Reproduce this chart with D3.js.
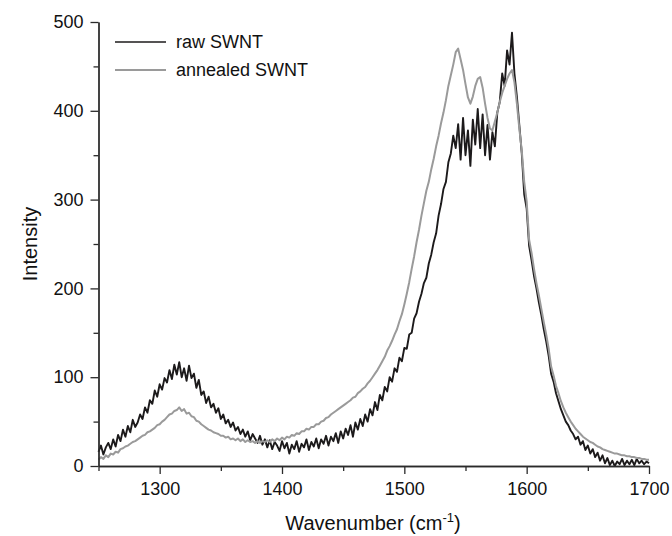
<!DOCTYPE html>
<html>
<head>
<meta charset="utf-8">
<script src="https://cdn.jsdelivr.net/npm/d3@7"></script>
<style>
  body { margin: 0; background: #fff; }
  svg { display: block; font-family: Arial, "Liberation Sans", sans-serif; }
</style>
</head>
<body>
<svg id="chart" width="672" height="536"></svg>
<script>
// wavenumber grid, cm-1 (one reading every 2 cm-1)
var waveStart = 1250, waveStep = 2;

// raw SWNT intensity
var rawSWNT = [
  16, 23, 13, 21, 26, 19, 30, 22, 35, 28,
  41, 33, 45, 38, 52, 44, 49, 58, 53, 66,
  60, 74, 70, 85, 78, 92, 86, 99, 94, 108,
  98, 114, 103, 117, 100, 110, 96, 113, 99, 104,
  88, 97, 80, 84, 71, 78, 66, 70, 60, 65,
  53, 58, 48, 52, 44, 49, 40, 44, 36, 41,
  33, 39, 29, 36, 31, 26, 34, 24, 30, 21,
  29, 19, 27, 23, 17, 28, 20, 26, 14, 24,
  19, 28, 16, 25, 21, 30, 18, 27, 22, 31,
  20, 30, 25, 34, 23, 33, 28, 37, 26, 39,
  31, 42, 35, 46, 33, 49, 41, 53, 45, 58,
  50, 64, 57, 72, 63, 80, 74, 89, 84, 100,
  95, 110, 106, 122, 118, 133, 132, 148, 150, 166,
  172, 185, 194, 206, 212, 228, 238, 252, 262, 282,
  295, 312, 320, 342, 352, 372, 358, 385, 345, 392,
  350, 378, 338, 390, 362, 402, 358, 396, 350, 384,
  345, 376, 360, 398, 410, 442, 428, 468, 452, 488,
  442, 416, 384, 352, 306, 290, 248, 232, 214, 200,
  184, 170, 154, 140, 124, 104, 95, 82, 73, 64,
  57, 50, 46, 40, 36, 30, 33, 24, 28, 18,
  23, 14, 19, 10, 15, 6, 12, 3, 9, 1,
  6, 0, 5, 2, 8, 1, 6, 2, 7, 1,
  8, 3, 6, 2, 5, 3
];

// annealed SWNT intensity
var annealedSWNT = [
  7, 10, 8, 12, 10, 14, 13, 16, 15, 19,
  20, 22, 23, 25, 27, 28, 30, 32, 34, 35,
  38, 39, 41, 43, 46, 47, 50, 52, 55, 58,
  59, 62, 63, 66, 62, 64, 59, 60, 56, 55,
  51, 50, 47, 45, 43, 41, 40, 38, 37, 36,
  34, 34, 32, 33, 30, 31, 29, 31, 28, 30,
  27, 29, 27, 28, 26, 28, 26, 28, 27, 29,
  27, 30, 28, 31, 29, 32, 30, 33, 32, 35,
  34, 37, 36, 39, 39, 42, 41, 44, 44, 47,
  47, 50, 51, 54, 55, 58, 60, 62, 64, 66,
  68, 70, 72, 74, 77, 78, 82, 84, 87, 89,
  93, 96, 100, 104, 108, 113, 118, 123, 130, 135,
  141, 148, 154, 163, 171, 182, 194, 207, 222, 236,
  252, 266, 282, 296, 310, 320, 334, 346, 360, 372,
  386, 398, 412, 428, 440, 452, 466, 470, 458, 446,
  430, 415, 408, 416, 428, 436, 438, 426, 408, 392,
  380, 378, 388, 398, 410, 420, 428, 436, 442, 446,
  432, 408, 380, 355, 320, 298, 255, 240, 222, 206,
  192, 177, 162, 148, 132, 112, 102, 90, 82, 73,
  66, 60, 55, 50, 46, 42, 39, 36, 33, 31,
  29, 27, 26, 24, 22, 21, 19, 18, 17, 16,
  15, 14, 14, 13, 12, 12, 11, 11, 10, 10,
  9, 9, 8, 8, 7, 7
];

var xMajor = [1300, 1400, 1500, 1600, 1700];
var xMinor = [1250, 1350, 1450, 1550, 1650];
var yMajor = [0, 100, 200, 300, 400, 500];
var yMinor = [50, 150, 250, 350, 450];

var seriesNames = ['raw SWNT', 'annealed SWNT'];
var seriesColors = ['#1c1a1b', '#9a9a9a'];

var svg = d3.select('#chart');
var m = { left: 98.5, right: 649, top: 22, bottom: 466 };

var x = d3.scaleLinear().domain([1250, 1700]).range([m.left, m.right]);
var y = d3.scaleLinear().domain([0, 500]).range([m.bottom, m.top]);

function toPoints(vals) {
  return vals.map(function(v, i) { return [waveStart + i * waveStep, v]; });
}

var line = d3.line()
  .x(function(d) { return x(d[0]); })
  .y(function(d) { return y(d[1]); });

var plot = svg.append('g');
[rawSWNT, annealedSWNT].forEach(function(vals, i) {
  plot.append('path')
    .datum(toPoints(vals))
    .attr('fill', 'none')
    .attr('stroke', seriesColors[i])
    .attr('stroke-width', i == 0 ? 1.9 : 2)
    .attr('stroke-linejoin', 'round')
    .attr('d', line);
});

// axes
var axisColor = '#2a2a2a';
var fontSize = '18px';

var gx = svg.append('g').attr('transform', 'translate(0,' + m.bottom + ')');
gx.call(d3.axisBottom(x).tickValues(xMajor).tickFormat(d3.format('d')).tickSize(8).tickPadding(8).tickSizeOuter(0));
gx.append('g').call(d3.axisBottom(x).tickValues(xMinor).tickSize(5).tickFormat('').tickSizeOuter(0));

var gy = svg.append('g').attr('transform', 'translate(' + m.left + ',0)');
gy.call(d3.axisLeft(y).tickValues(yMajor).tickFormat(d3.format('d')).tickSize(8).tickPadding(7).tickSizeOuter(0));
gy.append('g').call(d3.axisLeft(y).tickValues(yMinor).tickSize(5).tickFormat('').tickSizeOuter(0));

svg.selectAll('.domain').attr('stroke', axisColor).attr('stroke-width', 1.3);
svg.selectAll('.tick line').attr('stroke', axisColor).attr('stroke-width', 1.3);
svg.selectAll('.tick text')
  .attr('fill', '#111')
  .style('font-size', fontSize)
  .style('font-family', 'Arial, "Liberation Sans", sans-serif');

// axis titles
svg.append('text')
  .attr('x', 373).attr('y', 530)
  .attr('text-anchor', 'middle')
  .style('font-size', '20px').attr('fill', '#111')
  .html('Wavenumber (cm<tspan dy="-8" font-size="13px">-1</tspan><tspan dy="8">)</tspan>');

svg.append('text')
  .attr('transform', 'translate(37,244) rotate(-90)')
  .attr('text-anchor', 'middle')
  .style('font-size', '20px').attr('fill', '#111')
  .text('Intensity');

// legend
var legend = svg.append('g');
seriesNames.forEach(function(name, i) {
  var ly = 42 + i * 28;
  legend.append('line')
    .attr('x1', 115).attr('x2', 166).attr('y1', ly).attr('y2', ly)
    .attr('stroke', seriesColors[i]).attr('stroke-width', i == 0 ? 1.6 : 1.8);
  legend.append('text')
    .attr('x', 176).attr('y', ly).attr('dy', '0.35em')
    .style('font-size', '18px').attr('fill', '#111')
    .text(name);
});
</script>
</body>
</html>
